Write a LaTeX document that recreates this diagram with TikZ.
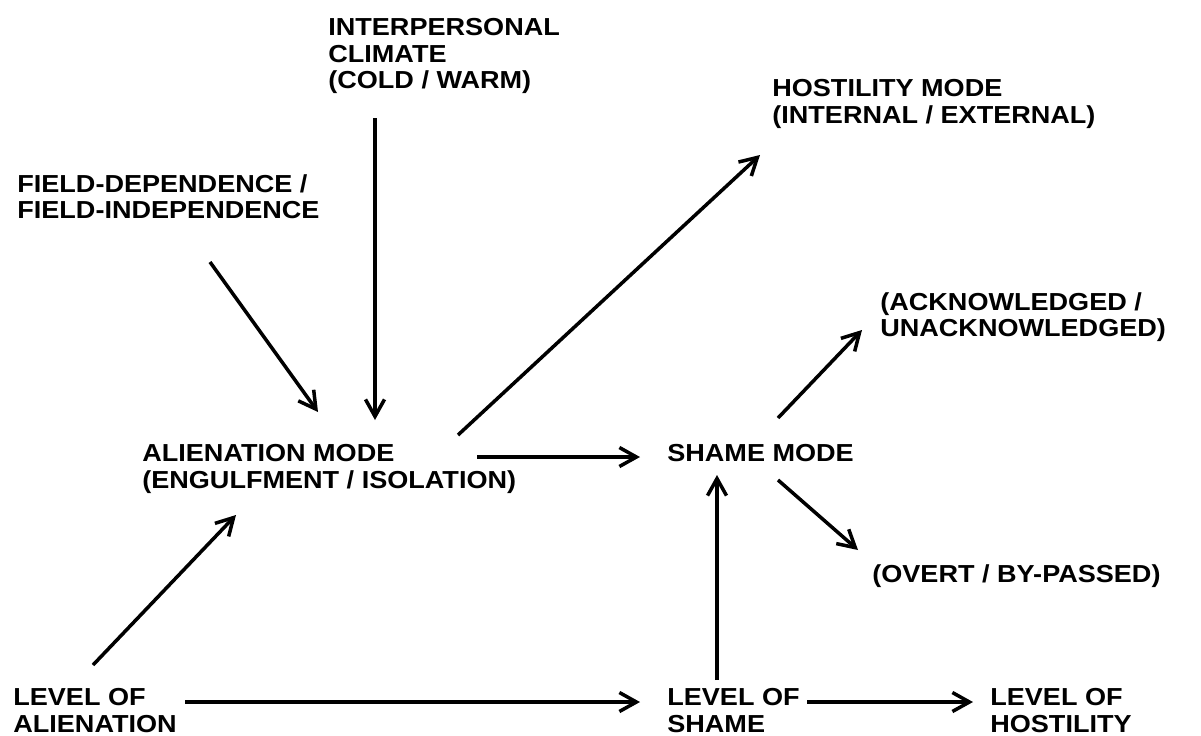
\documentclass[tikz,border=0pt]{standalone}
\usepackage{fontspec}
\setmainfont[FakeStretch=1.1]{Liberation Sans}
\usetikzlibrary{calc,arrows.meta}

\tikzset{
  lbl/.style={anchor=north west, inner sep=0pt, align=left,
    font=\bfseries\fontsize{14}{15.1}\selectfont},
  arr/.style={-{Straight Barb[length=3.4mm,width=3.8mm]}, line width=2pt}
}

\begin{document}
\begin{tikzpicture}[x=0.02cm,y=-0.02cm]
		\useasboundingbox (0,0) rectangle (1201,735);
		% labels
		\node[lbl] (climate) at (328,18) {INTERPERSONAL\\CLIMATE\\(COLD / WARM)};
		\node[lbl] (hostmode) at (772,79) {HOSTILITY MODE\\(INTERNAL / EXTERNAL)};
		\node[lbl] (field) at (17,174) {FIELD-DEPENDENCE /\\FIELD-INDEPENDENCE};
		\node[lbl] (ackn) at (880,292) {(ACKNOWLEDGED /\\UNACKNOWLEDGED)};
		\node[lbl] (alien) at (142,444) {ALIENATION MODE\\(ENGULFMENT / ISOLATION)};
		\node[lbl] (shame) at (667,444) {SHAME MODE};
		\node[lbl] (overt) at (872,564) {(OVERT / BY-PASSED)};
		\node[lbl] (levelA) at (13,688) {LEVEL OF\\ALIENATION};
		\node[lbl] (levelS) at (667,688) {LEVEL OF\\SHAME};
		\node[lbl] (levelH) at (990,688) {LEVEL OF\\HOSTILITY};
		% arrows
		\draw[arr] ($(climate.north west)+(47,100)$) -- ($(alien.north west)+(233,-24)$);
		\draw[arr] ($(field.north west)+(193,88)$) -- ($(alien.north west)+(176,-32)$);
		\draw[arr] ($(alien.north west)+(316,-9)$) -- ($(hostmode.north west)+(-12,76)$);
		\draw[arr] ($(alien.north west)+(335,13)$) -- ($(shame.north west)+(-27,13)$);
		\draw[arr] ($(shame.north west)+(111,-26)$) -- ($(ackn.north west)+(-18,38)$);
		\draw[arr] ($(shame.north west)+(111,36)$) -- ($(overt.north west)+(-14,-14)$);
		\draw[arr] ($(levelS.north west)+(50,-8)$) -- ($(shame.north west)+(50,31)$);
		\draw[arr] ($(levelA.north west)+(80,-23)$) -- ($(alien.north west)+(94,71)$);
		\draw[arr] ($(levelA.north west)+(172,14)$) -- ($(levelS.north west)+(-27,14)$);
		\draw[arr] ($(levelS.north west)+(140,14)$) -- ($(levelH.north west)+(-17,14)$);
\end{tikzpicture}
\end{document}
